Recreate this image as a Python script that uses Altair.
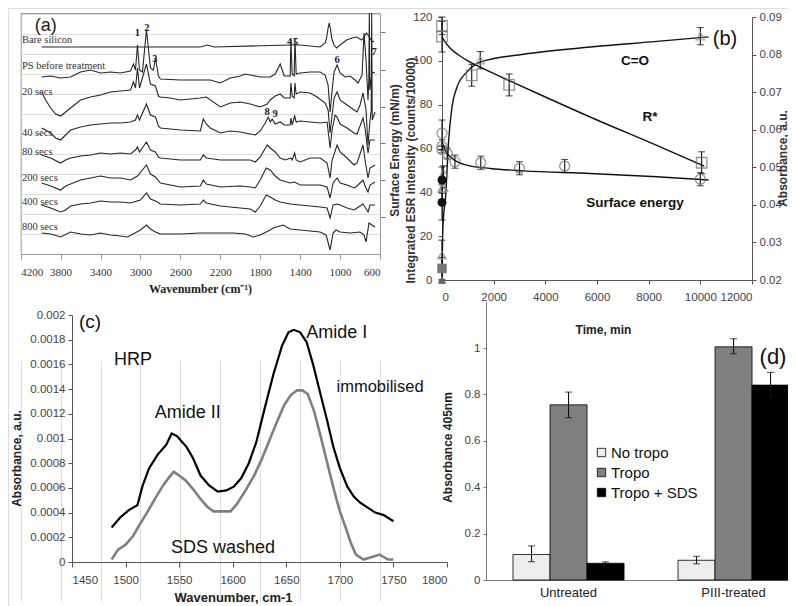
import altair as alt
import pandas as pd

# ======================= DATA =======================
# ---- (a) ATR-FTIR spectra, offset traces: (wavenumber cm-1, offset absorbance a.u.)
a_bare_silicon = [(3990, 207), (3000, 207), (2400, 207), (2330, 209), (2260, 207), (1500, 209), (1400, 209),
                  (1200, 207), (1150, 211), (1135, 216), (1120, 226), (1108, 231), (1095, 224), (1085, 216),
                  (1060, 209), (1035, 206), (1000, 209), (935, 214), (880, 216), (835, 217), (785, 214),
                  (760, 217), (735, 221), (715, 218), (700, 216), (680, 212), (660, 213)]
a_ps_before = [(3990, 177), (3900, 178), (3800, 176), (3700, 177), (3600, 182), (3500, 184), (3400, 181),
               (3300, 182), (3200, 181), (3100, 183), (3070, 190), (3050, 184), (3030, 209), (3010, 184),
               (2980, 182), (2940, 224), (2900, 186), (2870, 184), (2850, 196), (2820, 178), (2800, 175),
               (2600, 174), (2400, 174), (2300, 174), (2200, 171), (2100, 176), (2000, 178), (1950, 180),
               (1900, 179), (1800, 177), (1700, 177), (1650, 180), (1600, 190), (1560, 178), (1500, 178),
               (1493, 214), (1480, 180), (1460, 178), (1452, 216), (1440, 180), (1400, 181), (1300, 182),
               (1200, 182), (1150, 179), (1120, 169), (1100, 142), (1080, 164), (1060, 182), (1030, 189),
               (1000, 181), (950, 177), (900, 178), (850, 174), (820, 171), (780, 179), (760, 221),
               (740, 194), (720, 154), (712, 174), (707, 241), (702, 164), (680, 182), (650, 181)]
a_20_secs = [(3990, 162), (3950, 154), (3900, 146), (3850, 140), (3800, 138), (3750, 142), (3700, 146),
             (3600, 154), (3500, 157), (3400, 159), (3300, 162), (3200, 163), (3100, 164), (3070, 172),
             (3050, 166), (3030, 186), (3010, 166), (2940, 190), (2900, 170), (2850, 168), (2820, 158),
             (2800, 157), (2700, 156), (2600, 154), (2500, 155), (2400, 156), (2340, 157), (2200, 147),
             (2100, 151), (2000, 152), (1900, 150), (1800, 147), (1730, 150), (1700, 154), (1650, 158),
             (1600, 160), (1560, 156), (1500, 156), (1493, 171), (1480, 158), (1460, 156), (1452, 171),
             (1440, 160), (1400, 162), (1300, 161), (1230, 157), (1150, 151), (1120, 144), (1100, 121),
             (1080, 139), (1060, 156), (1030, 162), (1000, 154), (930, 149), (860, 144), (830, 142),
             (800, 149), (770, 161), (740, 144), (720, 109), (700, 134), (688, 144), (683, 241),
             (678, 134), (650, 142)]
a_40_secs = [(3990, 126), (3950, 124), (3900, 121), (3850, 116), (3800, 114), (3750, 119), (3700, 124),
             (3600, 127), (3500, 129), (3400, 130), (3300, 131), (3200, 131), (3100, 132), (3050, 134),
             (3030, 139), (3010, 134), (2940, 150), (2900, 139), (2850, 137), (2820, 128), (2800, 126),
             (2600, 124), (2400, 123), (2370, 135), (2340, 130), (2300, 126), (2200, 121), (2100, 123),
             (2000, 122), (1900, 120), (1850, 119), (1800, 123), (1750, 131), (1720, 137), (1700, 132),
             (1680, 135), (1650, 130), (1600, 132), (1560, 129), (1500, 129), (1493, 136), (1480, 129),
             (1455, 138), (1440, 132), (1400, 133), (1300, 132), (1200, 131), (1130, 132), (1100, 106),
             (1080, 124), (1050, 139), (1030, 137), (1000, 130), (930, 126), (860, 121), (830, 120),
             (770, 136), (750, 126), (720, 101), (700, 114), (650, 114)]
a_80_secs = [(3990, 99), (3900, 96), (3800, 91), (3750, 94), (3700, 96), (3600, 98), (3500, 99), (3400, 101),
             (3300, 100), (3200, 101), (3100, 100), (3050, 104), (3030, 107), (3010, 102), (2940, 112),
             (2900, 104), (2850, 102), (2820, 97), (2800, 96), (2600, 94), (2400, 94), (2370, 99), (2340, 96),
             (2200, 94), (2000, 94), (1900, 94), (1850, 92), (1800, 97), (1730, 109), (1700, 106), (1650, 102),
             (1600, 96), (1550, 94), (1493, 96), (1480, 94), (1455, 101), (1440, 94), (1400, 92), (1300, 96),
             (1200, 96), (1130, 91), (1100, 76), (1080, 94), (1030, 109), (1000, 102), (930, 96), (860, 89),
             (830, 91), (770, 109), (750, 94), (720, 76), (700, 86), (650, 89)]
a_200_secs = [(3990, 71), (3900, 68), (3800, 64), (3750, 68), (3700, 70), (3600, 74), (3500, 76), (3400, 78),
              (3300, 76), (3200, 76), (3100, 74), (3030, 78), (2940, 89), (2900, 80), (2850, 77), (2800, 71),
              (2600, 67), (2400, 68), (2370, 74), (2340, 70), (2200, 67), (2000, 68), (1900, 67), (1850, 66),
              (1800, 74), (1740, 86), (1700, 84), (1650, 78), (1600, 74), (1500, 71), (1455, 72), (1400, 69),
              (1300, 69), (1200, 69), (1130, 67), (1100, 56), (1070, 71), (1030, 76), (1000, 71), (930, 69),
              (860, 66), (830, 68), (770, 74), (750, 68), (720, 62), (700, 69), (650, 72)]
a_400_secs = [(3990, 49), (3900, 46), (3800, 42), (3750, 44), (3700, 48), (3600, 50), (3500, 51), (3400, 53),
              (3300, 52), (3200, 52), (3100, 51), (3000, 54), (2940, 61), (2900, 55), (2850, 53), (2800, 50),
              (2600, 49), (2400, 50), (2370, 54), (2340, 51), (2200, 48), (2000, 46), (1900, 45), (1850, 42),
              (1800, 48), (1740, 59), (1700, 57), (1650, 54), (1600, 52), (1500, 50), (1400, 49), (1300, 48),
              (1200, 47), (1130, 46), (1100, 36), (1070, 49), (1030, 50), (1000, 49), (930, 46), (860, 44),
              (830, 46), (770, 50), (750, 47), (720, 42), (700, 49), (650, 49)]
a_800_secs = [(3990, 21), (3900, 20), (3800, 17), (3700, 22), (3600, 20), (3500, 19), (3400, 21), (3300, 19),
              (3200, 18), (3130, 17), (3000, 24), (2940, 29), (2900, 25), (2850, 22), (2800, 20), (2600, 20),
              (2400, 21), (2200, 21), (2070, 21), (1950, 20), (1870, 17), (1800, 19), (1700, 24), (1670, 26),
              (1570, 29), (1500, 25), (1400, 24), (1300, 23), (1200, 22), (1140, 19), (1100, 4), (1070, 21),
              (1040, 24), (1000, 22), (900, 21), (800, 22), (760, 19), (740, 12), (710, 31), (650, 27)]
a_trace_names = ["Bare silicon", "PS before treatment", "20 secs", "40 secs", "80 secs",
                 "200 secs", "400 secs", "800 secs"]
a_traces = [a_bare_silicon, a_ps_before, a_20_secs, a_40_secs, a_80_secs, a_200_secs, a_400_secs, a_800_secs]
a_label_height = [214, 188, 162, 121, 102, 76, 52, 27]
a_peak_text = ["1", "2", "3", "4", "5", "6", "7", "8", "9"]
a_peak_wn = [3030, 2935, 2855, 1505, 1445, 1030, 660, 1730, 1652]
a_peak_h = [221, 226, 195, 212, 212, 194, 202, 142, 140]
a_xticks = [4200, 3800, 3400, 3000, 2600, 2200, 1800, 1400, 1000, 600]

# ---- (b) time course (min)
se_time = [0, 0, 0, 200, 500, 1500, 3000, 4750, 10000]
se_value = [67, 61, 59.5, 57.7, 54, 53.5, 51, 52, 46]
se_err = [6, 3, 0, 2.5, 3, 3, 3, 3, 3]
rs_time = [0, 0, 1150, 2600, 10050]
rs_value = [116, 111, 93.4, 89, 53.5]
rs_err = [4, 7, 5, 5, 5]
co_time = [0, 0, 60, 60, 1480, 10000]
co_value = [0.0266, 0.0444, 0.0446, 0.0484, 0.0785, 0.0849]
co_err = [0.004, 0.003, 0, 0.002, 0.0023, 0.0023]
t0_value = [5.3, 35.4, 45.6]
t0_err = [5, 8, 6]
se_curve_t = [0, 60, 150, 300, 580, 1000, 1870, 3160, 5740, 8320, 10320]
se_curve_v = [64, 61, 58.5, 56.5, 54, 52.3, 50.9, 49.8, 48.6, 47.1, 45.6]
rs_curve_t = [0, 100, 300, 600, 1000, 1500, 2600, 4000, 6000, 8000, 10150]
rs_curve_v = [111, 109, 106, 103, 100, 97, 91, 83.5, 73, 63, 52]
co_curve_t = [0, 20, 60, 130, 258, 387, 580, 970, 1480, 3160, 5740, 8320, 10320]
co_curve_v = [0.0200, 0.0300, 0.0370, 0.0413, 0.0572, 0.0661, 0.0713, 0.0754, 0.0780, 0.0801,
              0.0820, 0.0835, 0.0847]
b_note_text = ["C=O", "R*", "Surface energy"]
b_note_t = [7470, 8050, 7470]
b_note_v = [99.9, 74.4, 35.1]

# ---- (c) HRP amide bands
c_imm_wn = [1487, 1495, 1503, 1511, 1516, 1522, 1530, 1538, 1543, 1548, 1553, 1557, 1563, 1570, 1578,
            1586, 1594, 1601, 1608, 1615, 1622, 1630, 1638, 1646, 1652, 1657, 1663, 1669, 1675, 1681,
            1688, 1694, 1700, 1707, 1713, 1719, 1726, 1733, 1741, 1750]
c_imm_abs = [0.00028, 0.00036, 0.00042, 0.00046, 0.00062, 0.00076, 0.00087, 0.00095, 0.00104, 0.00102,
             0.00097, 0.00093, 0.00084, 0.00070, 0.00062, 0.00057, 0.00058, 0.00061, 0.00068, 0.00080,
             0.00097, 0.00125, 0.00152, 0.00175, 0.00186, 0.00188, 0.00186, 0.00178, 0.00160, 0.00139,
             0.00115, 0.00093, 0.00076, 0.00061, 0.00053, 0.00048, 0.00044, 0.00040, 0.00038, 0.00033]
c_sds_wn = [1487, 1493, 1500, 1507, 1513, 1520, 1528, 1535, 1541, 1545, 1550, 1556, 1563, 1570, 1576,
            1582, 1590, 1598, 1604, 1612, 1620, 1627, 1634, 1641, 1648, 1654, 1660, 1665, 1670, 1676,
            1682, 1688, 1694, 1700, 1705, 1710, 1715, 1722, 1730, 1737, 1745, 1750]
c_sds_abs = [0.00002, 0.00010, 0.00014, 0.00021, 0.00030, 0.00040, 0.00052, 0.00062, 0.00069, 0.00073,
             0.00070, 0.00066, 0.00059, 0.00051, 0.00045, 0.00041, 0.00041, 0.00041, 0.00047, 0.00058,
             0.00070, 0.00083, 0.00098, 0.00113, 0.00127, 0.00135, 0.00139, 0.00139, 0.00136, 0.00122,
             0.00102, 0.00081, 0.00060, 0.00041, 0.00029, 0.00016, 0.00006, 0.00002, 0.00004, 0.00006,
             0.00002, 0.00002]
c_note_text = ["HRP", "Amide II", "Amide I", "SDS washed"]
c_note_wn = [1507, 1558, 1697, 1591]
c_note_abs = [0.001636, 0.001206, 0.001854, 0.000113]
c_yticks = [0, 0.0002, 0.0004, 0.0006, 0.0008, 0.001, 0.0012, 0.0014, 0.0016, 0.0018, 0.002]

# ---- (d) tropoelastin ELISA
d_surface = ["Untreated", "Untreated", "Untreated", "PIII-treated", "PIII-treated", "PIII-treated"]
d_series = ["No tropo", "Tropo", "Tropo + SDS", "No tropo", "Tropo", "Tropo + SDS"]
d_value = [0.11, 0.755, 0.072, 0.085, 1.005, 0.84]
d_low = [0.079, 0.70, 0.066, 0.070, 0.975, 0.79]
d_high = [0.147, 0.81, 0.078, 0.102, 1.04, 0.895]
d_series_order = ["No tropo", "Tropo", "Tropo + SDS"]
d_colors = ["#ededed", "#808080", "#000000"]

# ======================= LAYOUT =======================
W, H = 780, 598
SANS = "Liberation Sans"
SERIF = "Liberation Serif"

A_XD, A_XR = [4200, 600], [12.7, 372]
A_YD, A_YR = [0, 241], [246, 5]
B_XD, B_XR = [0, 12000], [434, 744]
B_YD, B_Y2D, B_YR = [0, 120], [0.02, 0.09], [272, 9]
C_XD, C_XR = [1450, 1800], [64, 439]
C_YD, C_YR = [0, 0.002], [554, 307]
D_XR, D_YD, D_YR = [478, 782], [0, 1.2], [572, 293.6]


def qs(dom, rng):
    return alt.Scale(domain=dom, range=rng, nice=False, zero=False)


def enc_x(field, dom, rng, axis=None):
    return alt.X(field, type="quantitative", scale=qs(dom, rng), axis=axis)


def enc_y(field, dom, rng, axis=None):
    return alt.Y(field, type="quantitative", scale=qs(dom, rng), axis=axis)


layers = []

# ======================= PANEL (a) =======================
rows = []
for name, pts in zip(a_trace_names, a_traces):
    for i, (wn, h) in enumerate(pts):
        rows.append({"trace": name, "wn": wn, "h": h, "i": i})
df_a = pd.DataFrame(rows)

a_xaxis = alt.Axis(orient="bottom", offset=A_YR[0] - H, values=a_xticks, format="d", labelAngle=0,
                   labelFont=SERIF, labelFontSize=11, labelColor="#333", labelPadding=7, tickSize=5,
                   tickColor="#999", domainColor="#999", title="Wavenumber (cm⁻¹)", titleFont=SERIF,
                   titleFontSize=12, titleFontWeight="bold", titleColor="#222", titleX=192, titleY=34,
                   titleBaseline="middle", titleAlign="center")
a_yaxis = alt.Axis(orient="left", offset=-A_XR[0], labels=False, ticks=False, domainColor="#999", title=None)
layers.append(alt.Chart(df_a).mark_line(color="#262626", strokeWidth=1.1).encode(
    x=enc_x("wn", A_XD, A_XR, a_xaxis), y=enc_y("h", A_YD, A_YR, a_yaxis),
    detail="trace:N", order="i:Q"))

a_top = alt.Axis(orient="top", offset=-A_YR[1], labels=False, ticks=False, domainColor="#999", title=None)
a_right = alt.Axis(orient="right", offset=A_XR[1] - W, labels=False, tickSize=5, tickColor="#777",
                   domainColor="#999", values=[37, 74, 111, 147, 184, 222], title=None)
layers.append(alt.Chart(pd.DataFrame({"wn": [A_XD[0]], "h": [A_YD[0]]})).mark_point(opacity=0).encode(
    x=enc_x("wn", A_XD, A_XR, a_top), y=enc_y("h", A_YD, A_YR, a_right)))

df_alab = pd.DataFrame({"name": a_trace_names, "h": a_label_height, "wn": [4188] * len(a_trace_names)})
layers.append(alt.Chart(df_alab).mark_text(align="left", baseline="middle", font=SERIF, fontSize=10.5,
                                           color="#333").encode(
    x=enc_x("wn", A_XD, A_XR), y=enc_y("h", A_YD, A_YR), text="name:N"))
df_apk = pd.DataFrame({"t": a_peak_text, "wn": a_peak_wn, "h": a_peak_h})
layers.append(alt.Chart(df_apk).mark_text(align="center", baseline="middle", font=SERIF, fontSize=10.5,
                                          fontWeight="bold", color="#222").encode(
    x=enc_x("wn", A_XD, A_XR), y=enc_y("h", A_YD, A_YR), text="t:N"))
layers.append(alt.Chart(pd.DataFrame({"t": ["(a)"], "wn": [3950], "h": [228]})).mark_text(
    align="center", baseline="middle", font=SANS, fontSize=18, color="#222").encode(
    x=enc_x("wn", A_XD, A_XR), y=enc_y("h", A_YD, A_YR), text="t:N"))

# ======================= PANEL (b) =======================
b_xaxis = alt.Axis(orient="bottom", offset=B_YR[0] - H, values=list(range(0, 12001, 2000)), format="d",
                   labelAngle=0, labelFont=SANS, labelFontSize=11.5, labelColor="#444", labelPadding=7,
                   tickSize=4, tickColor="#555", domainColor="#555", title="Time, min", titleFont=SANS,
                   titleFontSize=12, titleFontWeight="bold", titleColor="#222", titleX=595, titleY=49,
                   titleBaseline="middle", titleAlign="center")
b_yaxis = alt.Axis(orient="left", offset=-B_XR[0], values=list(range(0, 121, 20)), format="d",
                   labelFont=SANS, labelFontSize=11.5, labelColor="#444", labelPadding=6, tickSize=4,
                   tickColor="#555", domainColor="#555", title="Integrated ESR intensity (counts/10000)",
                   titleFont=SANS, titleFontSize=12, titleFontWeight="bold", titleColor="#333",
                   titleX=-32, titleY=162, titleBaseline="middle", titleAlign="center", titleAngle=270)
b_yaxis2 = alt.Axis(orient="left", offset=-B_XR[0], labels=False, ticks=False, domain=False,
                    title="Surface Energy (mN/m)", titleFont=SANS, titleFontSize=12, titleFontWeight="bold",
                    titleColor="#333", titleX=-48, titleY=142, titleBaseline="middle", titleAlign="center",
                    titleAngle=270)
b_raxis = alt.Axis(orient="right", offset=B_XR[1] - W, values=[0.02, 0.03, 0.04, 0.05, 0.06, 0.07, 0.08, 0.09],
                   format=".2f", labelFont=SANS, labelFontSize=11.5, labelColor="#444", labelPadding=3,
                   tickSize=4, tickColor="#555", domainColor="#555", title="Absorbance, a.u.",
                   titleFont=SANS, titleFontSize=12, titleFontWeight="bold", titleColor="#333",
                   titleX=30, titleY=150, titleBaseline="middle", titleAlign="center", titleAngle=270)

df_bcurves = pd.concat([
    pd.DataFrame({"curve": "Surface energy", "t": se_curve_t, "v": se_curve_v}),
    pd.DataFrame({"curve": "R*", "t": rs_curve_t, "v": rs_curve_v}),
])
layers.append(alt.Chart(df_bcurves).mark_line(color="#111", strokeWidth=1.4, interpolate="monotone").encode(
    x=enc_x("t", B_XD, B_XR, b_xaxis), y=enc_y("v", B_YD, B_YR, b_yaxis), detail="curve:N"))
layers.append(alt.Chart(pd.DataFrame({"t": co_curve_t, "v": co_curve_v})).mark_line(
    color="#111", strokeWidth=1.4, interpolate="monotone").encode(
    x=enc_x("t", B_XD, B_XR), y=enc_y("v", B_Y2D, B_YR, b_raxis)))

df_se = pd.DataFrame({"t": se_time, "v": se_value, "lo": [v - e for v, e in zip(se_value, se_err)],
                      "hi": [v + e for v, e in zip(se_value, se_err)]})
df_rs = pd.DataFrame({"t": rs_time, "v": rs_value, "lo": [v - e for v, e in zip(rs_value, rs_err)],
                      "hi": [v + e for v, e in zip(rs_value, rs_err)]})
df_co = pd.DataFrame({"t": co_time, "v": co_value, "lo": [v - e for v, e in zip(co_value, co_err)],
                      "hi": [v + e for v, e in zip(co_value, co_err)]})
df_t0 = pd.DataFrame({"t": [0] * len(t0_value), "v": t0_value,
                      "lo": [v - e for v, e in zip(t0_value, t0_err)], "hi": [v + e for v, e in zip(t0_value, t0_err)]})
df_left_err = pd.concat([df_se, df_rs, df_t0])

layers.append(alt.Chart(df_left_err).mark_rule(color="#111", strokeWidth=1.1).encode(
    x=enc_x("t", B_XD, B_XR), y=enc_y("lo", B_YD, B_YR), y2="hi"))
for col in ["lo", "hi"]:
    layers.append(alt.Chart(df_left_err).mark_tick(color="#111", orient="horizontal", size=7, thickness=1.1).encode(
        x=enc_x("t", B_XD, B_XR), y=enc_y(col, B_YD, B_YR)))
layers.append(alt.Chart(df_co).mark_rule(color="#111", strokeWidth=1.1).encode(
    x=enc_x("t", B_XD, B_XR), y=enc_y("lo", B_Y2D, B_YR), y2="hi"))
for col in ["lo", "hi"]:
    layers.append(alt.Chart(df_co).mark_tick(color="#111", orient="horizontal", size=7, thickness=1.1).encode(
        x=enc_x("t", B_XD, B_XR), y=enc_y(col, B_Y2D, B_YR)))

layers.append(alt.Chart(df_se).mark_point(shape="circle", filled=False, size=100, color="#6b6b6b",
                                          strokeWidth=1.3).encode(
    x=enc_x("t", B_XD, B_XR), y=enc_y("v", B_YD, B_YR, b_yaxis2)))
layers.append(alt.Chart(df_rs).mark_point(shape="square", filled=False, size=110, color="#6b6b6b",
                                          strokeWidth=1.3).encode(
    x=enc_x("t", B_XD, B_XR), y=enc_y("v", B_YD, B_YR)))
layers.append(alt.Chart(df_co).mark_point(shape="triangle-up", filled=False, size=75, color="#8a8a8a",
                                          strokeWidth=1.3).encode(
    x=enc_x("t", B_XD, B_XR), y=enc_y("v", B_Y2D, B_YR)))
layers.append(alt.Chart(pd.DataFrame({"t": [0], "v": [t0_value[0]]})).mark_point(
    shape="square", filled=True, size=90, color="#777", opacity=1).encode(
    x=enc_x("t", B_XD, B_XR), y=enc_y("v", B_YD, B_YR)))
layers.append(alt.Chart(pd.DataFrame({"t": [0, 0], "v": t0_value[1:]})).mark_point(
    shape="circle", filled=True, size=80, color="#111", opacity=1).encode(
    x=enc_x("t", B_XD, B_XR), y=enc_y("v", B_YD, B_YR)))
layers.append(alt.Chart(pd.DataFrame({"t": [0], "v": [B_Y2D[0]]})).mark_point(
    shape="triangle-up", filled=True, size=75, color="#666", opacity=1).encode(
    x=enc_x("t", B_XD, B_XR), y=enc_y("v", B_Y2D, B_YR)))

layers.append(alt.Chart(pd.DataFrame({"s": b_note_text, "t": b_note_t, "v": b_note_v})).mark_text(
    align="center", baseline="middle", font=SANS, fontSize=13.5, fontWeight="bold", color="#111").encode(
    x=enc_x("t", B_XD, B_XR), y=enc_y("v", B_YD, B_YR), text="s:N"))
layers.append(alt.Chart(pd.DataFrame({"s": ["(b)"], "t": [10955], "v": [110]})).mark_text(
    align="center", baseline="middle", font=SANS, fontSize=20, color="#111").encode(
    x=enc_x("t", B_XD, B_XR), y=enc_y("v", B_YD, B_YR), text="s:N"))

# ======================= PANEL (c) =======================
c_xaxis = alt.Axis(orient="bottom", offset=C_YR[0] - H, values=list(range(1450, 1801, 50)), format="d",
                   labelAngle=0, labelFont=SANS, labelFontSize=11.5, labelColor="#444", labelPadding=7,
                   tickSize=5, tickColor="#555", domainColor="#555", title="Wavenumber, cm-1",
                   titleFont=SANS, titleFontSize=13, titleFontWeight="bold", titleColor="#222",
                   titleX=225, titleY=35, titleBaseline="middle", titleAlign="center")
c_yaxis = alt.Axis(orient="left", offset=-C_XR[0], values=c_yticks, format="~f", labelFont=SANS,
                   labelFontSize=11.5, labelColor="#444", labelPadding=3, tickSize=4, tickColor="#555",
                   domainColor="#555", title="Absorbance, a.u.", titleFont=SANS, titleFontSize=12,
                   titleFontWeight="bold", titleColor="#222", titleX=-56, titleY=450,
                   titleBaseline="middle", titleAlign="center", titleAngle=270)
layers.append(alt.Chart(pd.DataFrame({"wn": c_sds_wn, "a": c_sds_abs})).mark_line(
    color="#7f7f7f", strokeWidth=2.6).encode(
    x=enc_x("wn", C_XD, C_XR), y=enc_y("a", C_YD, C_YR)))
layers.append(alt.Chart(pd.DataFrame({"wn": c_imm_wn, "a": c_imm_abs})).mark_line(
    color="#000000", strokeWidth=2.2).encode(
    x=enc_x("wn", C_XD, C_XR, c_xaxis), y=enc_y("a", C_YD, C_YR, c_yaxis)))
layers.append(alt.Chart(pd.DataFrame({"s": c_note_text, "wn": c_note_wn, "a": c_note_abs})).mark_text(
    align="center", baseline="middle", font=SANS, fontSize=18, color="#111").encode(
    x=enc_x("wn", C_XD, C_XR), y=enc_y("a", C_YD, C_YR), text="s:N"))
layers.append(alt.Chart(pd.DataFrame({"s": ["immobilised"], "wn": [1737.5], "a": [0.001417]})).mark_text(
    align="center", baseline="middle", font=SANS, fontSize=16.5, color="#111").encode(
    x=enc_x("wn", C_XD, C_XR), y=enc_y("a", C_YD, C_YR), text="s:N"))
layers.append(alt.Chart(pd.DataFrame({"s": ["(c)"], "wn": [1466.8], "a": [0.001943]})).mark_text(
    align="center", baseline="middle", font=SANS, fontSize=19, color="#111").encode(
    x=enc_x("wn", C_XD, C_XR), y=enc_y("a", C_YD, C_YR), text="s:N"))

# ======================= PANEL (d) =======================
df_d = pd.DataFrame({"surface": d_surface, "series": d_series, "v": d_value, "lo": d_low, "hi": d_high})
d_groups = ["Untreated", "PIII-treated"]


def d_x(axis=None):
    return alt.X("surface:N", sort=d_groups,
                 scale=alt.Scale(domain=d_groups, range=D_XR, paddingInner=0.327, paddingOuter=0.0847,
                                 align=0.966), axis=axis)


def d_off():
    return alt.XOffset("series:N", sort=d_series_order,
                       scale=alt.Scale(domain=d_series_order, paddingInner=0, paddingOuter=0))


d_xaxis = alt.Axis(orient="bottom", offset=D_YR[0] - H, labelAngle=0, labelFont=SANS, labelFontSize=13,
                   labelColor="#222", labelPadding=6, tickSize=0, ticks=False, domainColor="#777", title=None)
d_yaxis = alt.Axis(orient="left", offset=-D_XR[0], values=[0, 0.2, 0.4, 0.6, 0.8, 1.0], format="~g",
                   labelFont=SANS, labelFontSize=11.5, labelColor="#444", labelPadding=3, tickSize=3,
                   tickColor="#777", domainColor="#777", title="Absorbance 405nm", titleFont=SANS,
                   titleFontSize=12, titleFontWeight="bold", titleColor="#222", titleX=-39, titleY=439,
                   titleBaseline="middle", titleAlign="center", titleAngle=270)
d_legend = alt.Legend(orient="none", legendX=586, legendY=437, title=None, symbolType="square",
                      symbolSize=70, symbolStrokeColor="#000", symbolStrokeWidth=0.8, labelFont=SANS,
                      labelFontSize=15, labelColor="#111", rowPadding=4, labelOffset=2)
layers.append(alt.Chart(df_d).mark_bar(stroke="#000", strokeWidth=0.8).encode(
    x=d_x(d_xaxis), xOffset=d_off(),
    y=enc_y("v", D_YD, D_YR, d_yaxis),
    color=alt.Color("series:N", sort=d_series_order,
                    scale=alt.Scale(domain=d_series_order, range=d_colors), legend=d_legend)))
layers.append(alt.Chart(df_d).mark_rule(color="#111", strokeWidth=1.1).encode(
    x=d_x(), xOffset=d_off(), y=enc_y("lo", D_YD, D_YR), y2="hi"))
for col in ["lo", "hi"]:
    layers.append(alt.Chart(df_d).mark_tick(color="#111", orient="horizontal", size=7, thickness=1.1).encode(
        x=d_x(), xOffset=d_off(), y=enc_y(col, D_YD, D_YR)))
layers.append(alt.Chart(pd.DataFrame({"s": ["(d)"]})).mark_text(
    align="center", baseline="middle", font=SANS, fontSize=22, color="#111").encode(
    x=alt.value(765), y=alt.value(349), text="s:N"))

chart = alt.layer(*layers).resolve_scale(
    x="independent", y="independent", color="independent", xOffset="independent"
).properties(
    width=W, height=H, padding=0, autosize=alt.AutoSizeParams(type="none")
).configure_view(stroke=None).configure_axis(grid=False).configure(font=SANS)

chart.save("out.html", embed_options={"renderer": "svg", "actions": False})
